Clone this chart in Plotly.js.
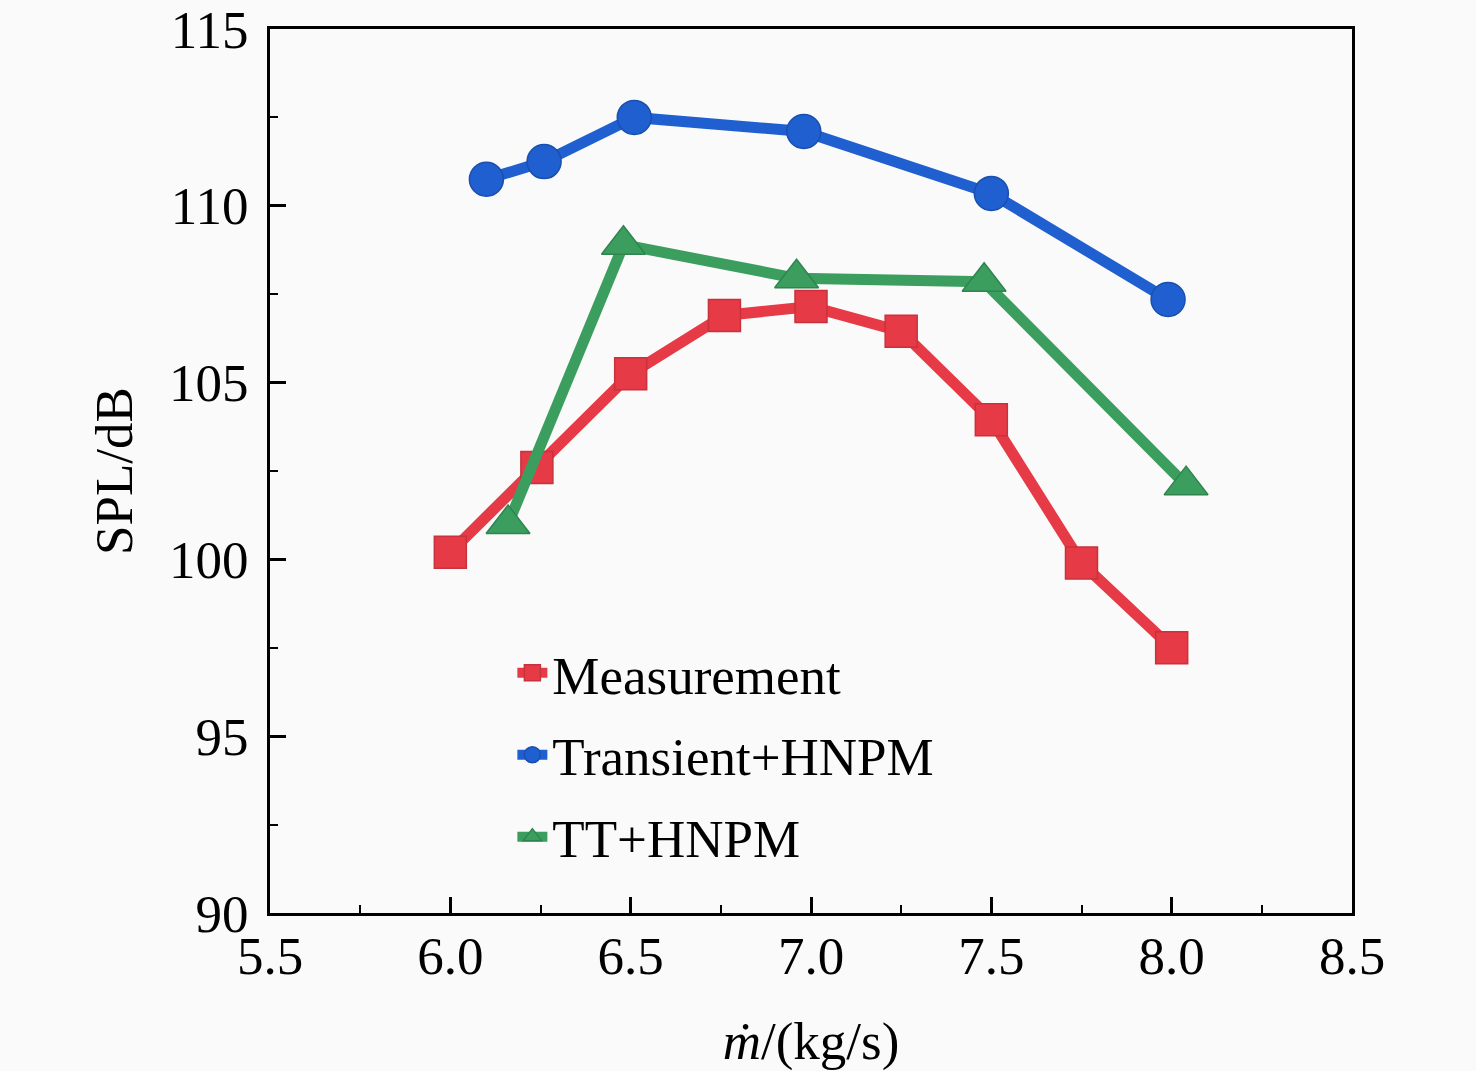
<!DOCTYPE html>
<html>
<head>
<meta charset="utf-8">
<script src="https://cdn.plot.ly/plotly-3.0.1.min.js"></script>
<style>
  html, body { margin: 0; padding: 0; background: #fafafa; }
  #chart { width: 1476px; height: 1071px; }
</style>
</head>
<body>
<div id="chart"></div>
<script>
// values
const measX = [6.0, 6.24, 6.5, 6.76, 7.0, 7.25, 7.5, 7.75, 8.0];
const measY = [100.2, 102.6, 105.25, 106.9, 107.15, 106.45, 103.95, 99.9, 97.5];

const transX = [6.1, 6.26, 6.51, 6.98, 7.5, 7.99];
const transY = [110.75, 111.25, 112.5, 112.1, 110.35, 107.35];

const ttX = [6.16, 6.48, 6.96, 7.48, 8.04];
const ttY = [101.0, 108.9, 107.95, 107.85, 102.1];

const xTicks = [5.5, 6.0, 6.5, 7.0, 7.5, 8.0, 8.5];
const yTicks = [90, 95, 100, 105, 110, 115];

const font = 'Liberation Serif, Times New Roman, serif';

function series(name, x, y, color, edge, symbol, size) {
  return {
    type: 'scatter',
    mode: 'lines+markers',
    name: name,
    legendgroup: name,
    x: x,
    y: y,
    line: { color: color, width: 11 },
    marker: { color: color, symbol: symbol, size: size, line: { color: edge, width: 1.5 } },
  };
}

const data = [
  series('Measurement', measX, measY, '#e63a46', '#c8323c', 'square', 32),
  series('Transient+HNPM', transX, transY, '#1f5fd0', '#1a4fae', 'circle', 34),
  series('TT+HNPM', ttX, ttY, '#3b9e5e', '#2f8450', 'triangle-up', 38),
];

const axisCommon = {
  showline: true,
  linecolor: '#000',
  linewidth: 3,
  mirror: true,
  showgrid: false,
  zeroline: false,
  ticks: 'inside',
  ticklen: 16,
  tickwidth: 3,
  tickcolor: '#000',
  tickfont: { family: font, size: 53, color: '#000' },
};

const layout = {
  width: 1476,
  height: 1071,
  margin: { l: 270, r: 124, t: 29, b: 158 },
  paper_bgcolor: '#fafafa',
  plot_bgcolor: '#fafafa',
  font: { family: font, color: '#000' },
  showlegend: true,
  legend: {
    x: 0.224,
    y: 0.318,
    xanchor: 'left',
    yanchor: 'top',
    bgcolor: 'rgba(0,0,0,0)',
    font: { family: font, size: 53 },
    tracegroupgap: 10,
  },
  xaxis: Object.assign({}, axisCommon, {
    range: [5.5, 8.5],
    tickvals: xTicks,
    ticktext: xTicks.map(v => v.toFixed(1)),
    ticklabelstandoff: -6,
    minor: { dtick: 0.25, ticks: 'inside', ticklen: 8, tickwidth: 2, tickcolor: '#000' },
    title: { text: '<i>ṁ</i>/(kg/s)', font: { family: font, size: 53 }, standoff: 42 },
  }),
  yaxis: Object.assign({}, axisCommon, {
    range: [90, 115],
    tickvals: yTicks,
    ticklabelstandoff: 8,
    minor: { dtick: 2.5, ticks: 'inside', ticklen: 8, tickwidth: 2, tickcolor: '#000' },
    title: { text: 'SPL/dB', font: { family: font, size: 53 }, standoff: 20 },
  }),
};

Plotly.newPlot('chart', data, layout, { displayModeBar: false, staticPlot: true });
</script>
</body>
</html>
